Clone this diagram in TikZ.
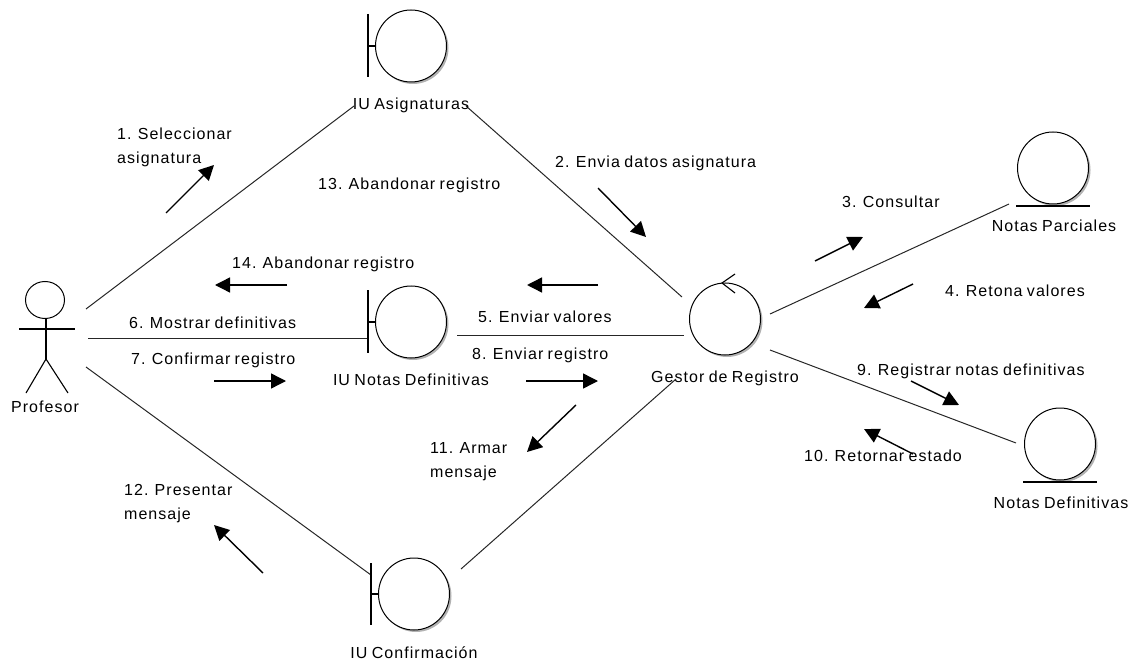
\documentclass[tikz,border=0pt]{standalone}
\usepackage{fontspec}
\setmainfont[LetterSpace=6.5,WordSpace=0.8]{Liberation Sans}
\usetikzlibrary{arrows.meta,shapes.geometric}
\tikzset{
 lbl/.style={inner sep=0pt,text height=11pt,text depth=3pt,anchor=west,align=left,font=\fontsize{16}{24}\selectfont},
 name lbl/.style={lbl,anchor=center,align=center},
 orb/.style={ellipse,draw=black,line width=1pt,fill=white,minimum width=71pt,minimum height=72pt,inner sep=0pt},
 shade orb/.style={ellipse,fill=black!30,minimum width=71pt,minimum height=72pt,inner sep=0pt},
 assoc/.style={draw=black!85,line width=1pt},
 part/.style={draw=black,line width=1.1pt},
 msg/.style={draw=black,line width=1.4pt,-{Triangle[length=15pt,width=15pt]}},
}
\begin{document}
\begin{tikzpicture}[x=1pt,y=-1pt]
\useasboundingbox (0,0) rectangle (1134,660);
% shadows
\foreach \n/\cx/\cy in {sa/411/46,sb/411/322,sc/414/594,sd/725/319,se/1053/168,sf/1060/444}
  \node[shade orb] (\n) at (\cx+2,\cy+2) {};
% lifelines
\coordinate (ac1) at (86,309); \coordinate (ia1) at (354,106);
\coordinate (ia2) at (466,106); \coordinate (ge1) at (682,297);
\coordinate (ac2) at (88,338); \coordinate (ib1) at (368,338);
\coordinate (ib2) at (457,335); \coordinate (ge2) at (684,335);
\coordinate (ac3) at (86,367); \coordinate (ic1) at (371,575);
\coordinate (ic2) at (461,569); \coordinate (ge3) at (676,379);
\coordinate (ge4) at (770,314); \coordinate (np1) at (1009,204);
\coordinate (ge5) at (770,350); \coordinate (nd1) at (1016,443);
\draw[assoc] (ac1) -- (ia1);
\draw[assoc] (ia2) -- (ge1);
\draw[assoc] (ac2) -- (ib1);
\draw[assoc] (ib2) -- (ge2);
\draw[assoc] (ac3) -- (ic1);
\draw[assoc] (ic2) -- (ge3);
\draw[assoc] (ge4) -- (np1);
\draw[assoc] (ge5) -- (nd1);
% boundary objects
\node[orb] (ua) at (411,46) {};
\node[orb] (ub) at (411,322) {};
\node[orb] (uc) at (414,594) {};
\draw[part] (368,14) -- (368,77);
\draw[part] (368,46) -- (ua.west);
\draw[part] (368,290) -- (368,353);
\draw[part] (368,322) -- (ub.west);
\draw[part] (371,563) -- (371,625);
\draw[part] (371,594) -- (uc.west);
% control
\node[orb] (gr) at (725,319) {};
\coordinate (g0) at (722,283); \coordinate (g1) at (735,274); \coordinate (g2) at (735,293);
\draw[part] (g1) -- (g0) -- (g2);
% entities
\node[orb] (np) at (1053,168) {};
\node[orb] (nd) at (1060,444) {};
\draw[part] (1016,206) -- (1090,206);
\draw[part] (1023,482) -- (1097,482);
% actor
\node[ellipse,draw=black,line width=1pt,minimum width=39pt,minimum height=37pt,inner sep=0pt] (hd) at (45,300) {};
\coordinate (hip) at (46,359);
\draw[part] (hd.south) ++(1,0) -- (hip);
\draw[part] (19,329) -- (75,329);
\draw[part] (26,393) -- (hip) -- (68,393);
% names
\node[name lbl] (nProf) at (45,408) {Profesor};
\node[name lbl] (nA) at (411,106) {IU Asignaturas};
\node[name lbl] (nB) at (411,381) {IU Notas Definitivas};
\node[name lbl] (nC) at (414,654) {IU Confirmación};
\node[name lbl] (nG) at (725,378) {Gestor de Registro};
\node[name lbl] (nP) at (1054,228) {Notas Parciales};
\node[name lbl] (nD) at (1061,504) {Notas Definitivas};
% messages
\node[lbl] (m1) at (117,160) {1. Seleccionar\\asignatura};
\node[lbl] (m2) at (555,164) {2. Envia datos asignatura};
\node[lbl] (m3) at (842,204) {3. Consultar};
\node[lbl] (m4) at (945,292) {4. Retona valores};
\node[lbl] (m5) at (478,318) {5. Enviar valores};
\node[lbl] (m6) at (129,324) {6. Mostrar definitivas};
\node[lbl] (m7) at (131,360) {7. Confirmar registro};
\node[lbl] (m8) at (472,355) {8. Enviar registro};
\node[lbl] (m9) at (857,371) {9. Registrar notas definitivas};
\node[lbl] (m10) at (804,457) {10. Retornar estado};
\node[lbl] (m11) at (430,473) {11. Armar\\mensaje};
\node[lbl] (m12) at (124,515) {12. Presentar\\mensaje};
\node[lbl] (m13) at (318,186) {13. Abandonar registro};
\node[lbl] (m14) at (232,265) {14. Abandonar registro};
% arrows
\foreach \a/\x/\y/\u/\v in {a1/166/213/214/165,a2/598/188/646/237,a3/815/261/863/237,a4/913/284/864/308,a5/598/285/527/285,a7/214/381/286/381,a8/526/381/598/381,a9/911/381/959/405,a10/913/454/864/429,a11/576/405/527/452,a12/263/573/214/525,a14/287/285/215/285}{
  \coordinate (\a s) at (\x,\y); \coordinate (\a e) at (\u,\v);
  \draw[msg] (\a s) -- (\a e);
}
\end{tikzpicture}
\end{document}
